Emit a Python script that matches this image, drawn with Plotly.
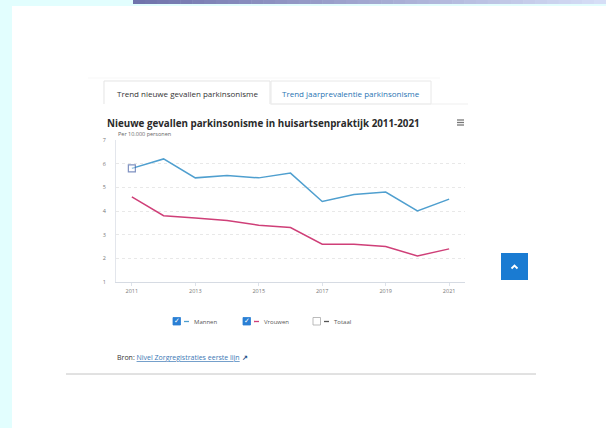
import plotly.graph_objects as go

years = list(range(2011, 2022))
mannen = [5.8, 6.2, 5.4, 5.5, 5.4, 5.6, 4.4, 4.7, 4.8, 4.0, 4.5]
vrouwen = [4.6, 3.8, 3.7, 3.6, 3.4, 3.3, 2.6, 2.6, 2.5, 2.1, 2.4]
series_names = ["Mannen", "Vrouwen", "Totaal"]
series_colors = ["#4f9fcf", "#cf3f78", "#555555"]
x_ticks = [2011, 2013, 2015, 2017, 2019, 2021]
y_ticks = [1, 2, 3, 4, 5, 6, 7]

title_text = "Nieuwe gevallen parkinsonisme in huisartsenpraktijk 2011-2021"
subtitle_text = "Per 10.000 personen"
tab_labels = ["Trend nieuwe gevallen parkinsonisme", "Trend jaarprevalentie parkinsonisme"]

W, H = 606, 428
L, R, T, B = 116, 465, 140, 282
FONT = "Open Sans"


def px(x):
    return (x - L) / (R - L)


def py(y):
    return (B - y) / (B - T)


fig = go.Figure()
fig.add_trace(go.Scatter(
    x=years, y=mannen, name=series_names[0], mode="lines+markers",
    line=dict(color=series_colors[0], width=1.5),
    marker=dict(size=[7] + [0] * (len(years) - 1), symbol="square",
                color="rgba(255,255,255,0.6)",
                line=dict(color="#4a64a8", width=1.2)),
))
fig.add_trace(go.Scatter(
    x=years, y=vrouwen, name=series_names[1], mode="lines",
    line=dict(color=series_colors[1], width=1.5),
))

shapes = []
annotations = []

# page background decorations
shapes.append(dict(type="rect", xref="paper", yref="paper", x0=px(0), x1=px(12), y0=py(H), y1=py(0),
                   fillcolor="#e2fefe", line_width=0, layer="below"))
shapes.append(dict(type="rect", xref="paper", yref="paper", x0=px(0), x1=px(W), y0=py(6), y1=py(0),
                   fillcolor="#e2fefe", line_width=0, layer="below"))
n = 40
c0 = (112, 116, 172)
c1 = (214, 222, 246)
for i in range(n):
    t = i / (n - 1)
    c = tuple(int(c0[k] + (c1[k] - c0[k]) * t) for k in range(3))
    xa = 133 + (W - 133) * i / n
    xb = 133 + (W - 133) * (i + 1) / n + 0.5
    shapes.append(dict(type="rect", xref="paper", yref="paper", x0=px(xa), x1=px(xb), y0=py(4), y1=py(0),
                       fillcolor="rgb(%d,%d,%d)" % c, line_width=0, layer="below"))

# tabs
shapes.append(dict(type="line", xref="paper", yref="paper", x0=px(88), x1=px(440), y0=py(78), y1=py(78),
                   line=dict(color="#f7f7f7", width=1)))
shapes.append(dict(type="path", xref="paper", yref="paper",
                   path="M %f %f L %f %f L %f %f L %f %f" % (px(104), py(104), px(104), py(81), px(270), py(81), px(270), py(104)),
                   line=dict(color="#e4e4e4", width=1)))
shapes.append(dict(type="rect", xref="paper", yref="paper", x0=px(271), x1=px(431), y0=py(104), y1=py(81),
                   line=dict(color="#e8e8e8", width=1), fillcolor="white"))
shapes.append(dict(type="line", xref="paper", yref="paper", x0=px(270), x1=px(468), y0=py(104), y1=py(104),
                   line=dict(color="#efefef", width=1)))
annotations.append(dict(text=tab_labels[0], xref="paper", yref="paper", x=px(187), y=py(93),
                        xanchor="center", yanchor="middle", showarrow=False,
                        font=dict(family=FONT, size=8, color="#333333")))
annotations.append(dict(text=tab_labels[1], xref="paper", yref="paper", x=px(351), y=py(93),
                        xanchor="center", yanchor="middle", showarrow=False,
                        font=dict(family=FONT, size=8, color="#2a74b3")))

# title / subtitle
annotations.append(dict(text="<b>%s</b>" % title_text, xref="paper", yref="paper", x=px(105), y=py(123),
                        xanchor="left", yanchor="middle", showarrow=False,
                        font=dict(family=FONT, size=9.8, color="#2a2a2a")))
annotations.append(dict(text=subtitle_text, xref="paper", yref="paper", x=px(116), y=py(133.5),
                        xanchor="left", yanchor="middle", showarrow=False,
                        font=dict(family=FONT, size=5.5, color="#666666")))
# hamburger icon
for yy in (120, 122.5, 125):
    shapes.append(dict(type="line", xref="paper", yref="paper", x0=px(457), x1=px(464), y0=py(yy), y1=py(yy),
                       line=dict(color="#777777", width=1.3)))

# custom legend
legend_pos = [(173, 184), (243, 254), (313, 324)]
for i, (name, col) in enumerate(zip(series_names, series_colors)):
    bx, tx = legend_pos[i]
    checked = i < 2
    shapes.append(dict(type="rect", xref="paper", yref="paper", x0=px(bx), x1=px(bx + 7.5), y0=py(325), y1=py(317.5),
                       fillcolor="#2a7fd4" if checked else "white",
                       line=dict(color="#2a7fd4" if checked else "#aaaaaa", width=0.8)))
    if checked:
        annotations.append(dict(text="✓", xref="paper", yref="paper", x=px(bx + 3.8), y=py(321.2),
                                xanchor="center", yanchor="middle", showarrow=False,
                                font=dict(family="DejaVu Sans", size=7, color="white")))
    shapes.append(dict(type="line", xref="paper", yref="paper", x0=px(tx), x1=px(tx + 5), y0=py(321.5), y1=py(321.5),
                       line=dict(color=col, width=1.3)))
    annotations.append(dict(text=name, xref="paper", yref="paper", x=px(tx + 8), y=py(321.5),
                            xanchor="left", yanchor="middle", showarrow=False,
                            font=dict(family=FONT, size=6, color="#555555")))

# source line
annotations.append(dict(text="Bron: <span style='color:#3a78b5'><u>Nivel Zorgregistraties eerste lijn</u></span> <b><span style='color:#1d4f8a'>↗</span></b>",
                        xref="paper", yref="paper", x=px(115), y=py(357),
                        xanchor="left", yanchor="middle", showarrow=False,
                        font=dict(family=FONT, size=7, color="#333333")))
shapes.append(dict(type="line", xref="paper", yref="paper", x0=px(66), x1=px(536), y0=py(374), y1=py(374),
                   line=dict(color="#c4c4c4", width=1)))

# scroll-to-top button
shapes.append(dict(type="rect", xref="paper", yref="paper", x0=px(501), x1=px(528), y0=py(280), y1=py(253),
                   fillcolor="#1a7bd2", line_width=0))
shapes.append(dict(type="path", xref="paper", yref="paper",
                   path="M %f %f L %f %f L %f %f" % (px(511.5), py(268.5), px(514.5), py(265.5), px(517.5), py(268.5)),
                   line=dict(color="white", width=1.8)))

fig.update_layout(
    width=W, height=H,
    margin=dict(l=L, r=W - R, t=T, b=H - B, pad=0),
    paper_bgcolor="white", plot_bgcolor="white",
    showlegend=False,
    font=dict(family=FONT),
    shapes=shapes, annotations=annotations,
    xaxis=dict(range=[2010.5, 2021.5], tickvals=x_ticks, ticktext=[str(v) for v in x_ticks],
               showgrid=False, zeroline=False, showline=True, linecolor="#d6dbe3", linewidth=1,
               ticks="outside", ticklen=3, tickcolor="#dde2ea",
               tickfont=dict(family=FONT, size=5.5, color="#777777"), fixedrange=True),
    yaxis=dict(range=[1, 7], tickvals=y_ticks, showgrid=True, gridcolor="#e8e8e8", griddash="dot",
               gridwidth=1, zeroline=False, showline=True, linecolor="#e3e6ec", linewidth=1,
               ticklabelstandoff=8,
               tickfont=dict(family=FONT, size=5.5, color="#777777"), fixedrange=True),
)

fig.write_html("out.html", config={"displayModeBar": False},
               post_script="document.body.style.margin='0';document.body.style.overflow='hidden';")
